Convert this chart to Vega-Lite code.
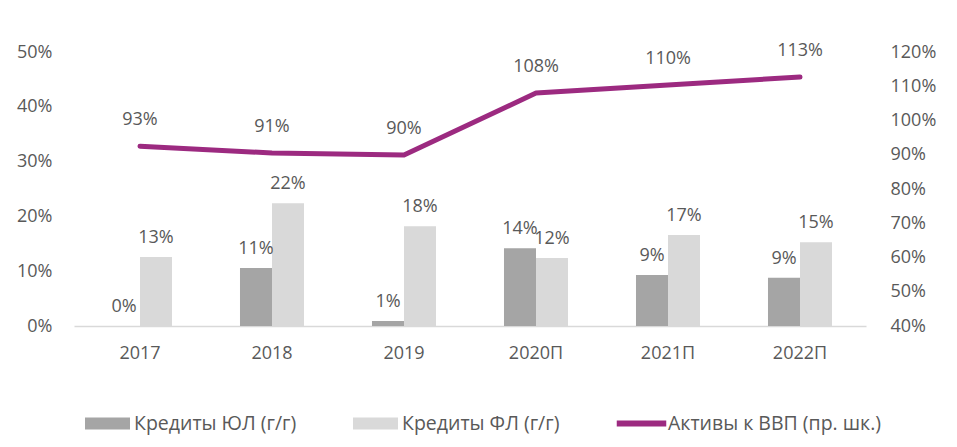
{
  "$schema": "https://vega.github.io/schema/vega-lite/v6.json",
  "width": 792,
  "height": 274,
  "autosize": {"type": "none"},
  "padding": {"left": 74, "top": 52, "right": 91, "bottom": 121},
  "background": "white",
  "config": {
    "view": {"stroke": null},
    "font": "Open Sans",
    "axis": {"labelFont": "Open Sans", "labelFontSize": 18, "labelColor": "#595959", "grid": false, "ticks": false, "title": null},
    "legend": {"labelFont": "Open Sans", "labelFontSize": 19.5, "labelColor": "#595959", "labelLimit": 0}
  },
  "datasets": {
    "bars": [
      {"year": "2017", "series": "Кредиты ЮЛ (г/г)", "value": 0.0},
      {"year": "2017", "series": "Кредиты ФЛ (г/г)", "value": 0.126},
      {"year": "2018", "series": "Кредиты ЮЛ (г/г)", "value": 0.106},
      {"year": "2018", "series": "Кредиты ФЛ (г/г)", "value": 0.224},
      {"year": "2019", "series": "Кредиты ЮЛ (г/г)", "value": 0.009},
      {"year": "2019", "series": "Кредиты ФЛ (г/г)", "value": 0.182},
      {"year": "2020П", "series": "Кредиты ЮЛ (г/г)", "value": 0.142},
      {"year": "2020П", "series": "Кредиты ФЛ (г/г)", "value": 0.124},
      {"year": "2021П", "series": "Кредиты ЮЛ (г/г)", "value": 0.093},
      {"year": "2021П", "series": "Кредиты ФЛ (г/г)", "value": 0.166},
      {"year": "2022П", "series": "Кредиты ЮЛ (г/г)", "value": 0.088},
      {"year": "2022П", "series": "Кредиты ФЛ (г/г)", "value": 0.153}
    ],
    "line": [
      {"year": "2017", "assets": 0.925},
      {"year": "2018", "assets": 0.905},
      {"year": "2019", "assets": 0.899},
      {"year": "2020П", "assets": 1.08},
      {"year": "2021П", "assets": 1.104},
      {"year": "2022П", "assets": 1.127}
    ]
  },
  "encoding": {
    "x": {
      "field": "year", "type": "nominal", "sort": null,
      "scale": {"paddingInner": 0.515, "paddingOuter": 0.2575},
      "axis": {"labelAngle": 0, "labelPadding": 18, "domain": true, "domainColor": "#d9d9d9", "domainWidth": 1.5}
    }
  },
  "layer": [
    {
      "data": {"name": "bars"},
      "encoding": {
        "y": {
          "field": "value", "type": "quantitative",
          "scale": {"domain": [0, 0.5]},
          "axis": {"orient": "left", "format": ".0%", "values": [0, 0.1, 0.2, 0.3, 0.4, 0.5], "domain": false, "labelPadding": 22}
        },
        "xOffset": {"field": "series", "type": "nominal", "sort": ["Кредиты ЮЛ (г/г)", "Кредиты ФЛ (г/г)"], "scale": {"paddingInner": 0, "paddingOuter": 0}}
      },
      "layer": [
        {
          "mark": {"type": "bar"},
          "encoding": {
            "color": {
              "field": "series", "type": "nominal",
              "scale": {
                "domain": ["Кредиты ЮЛ (г/г)", "Кредиты ФЛ (г/г)", "Активы к ВВП (пр. шк.)"],
                "range": ["#a5a5a5", "#d9d9d9", "#9c2a80"]
              },
              "legend": {
                "orient": "none", "legendX": 11, "legendY": 349, "direction": "horizontal",
                "title": null, "symbolSize": 2025, "labelOffset": 4, "columnPadding": 56,
                "symbolStrokeWidth": 0,
                "encode": {
                  "symbols": {
                    "update": {
                      "shape": {"signal": "datum.value === 'Активы к ВВП (пр. шк.)' ? 'M-1.1,-0.13H1.1V0.13H-1.1Z' : 'M-1,-0.27H1V0.27H-1Z'"},
                      "fill": {"signal": "scale('color', datum.value)"},
                      "strokeWidth": {"value": 0}
                    }
                  }
                }
              }
            }
          }
        },
        {
          "mark": {"type": "text", "baseline": "alphabetic", "dy": -14, "fontSize": 18, "color": "#595959", "font": "Open Sans"},
          "encoding": {
            "text": {"field": "value", "type": "quantitative", "format": ".0%"}
          }
        }
      ]
    },
    {
      "data": {"name": "line"},
      "encoding": {
        "y": {
          "field": "assets", "type": "quantitative",
          "scale": {"domain": [0.4, 1.2]},
          "axis": {"orient": "right", "format": ".0%", "values": [0.4, 0.5, 0.6, 0.7, 0.8, 0.9, 1.0, 1.1, 1.2], "domain": false, "labelPadding": 24}
        }
      },
      "layer": [
        {
          "mark": {"type": "line", "strokeWidth": 5, "strokeCap": "round", "strokeJoin": "round"},
          "encoding": {
            "color": {"datum": "Активы к ВВП (пр. шк.)", "type": "nominal"}
          }
        },
        {
          "mark": {"type": "text", "baseline": "alphabetic", "dy": -21, "fontSize": 18, "color": "#595959", "font": "Open Sans"},
          "encoding": {
            "text": {"field": "assets", "type": "quantitative", "format": ".0%"}
          }
        }
      ]
    }
  ],
  "resolve": {"scale": {"y": "independent"}}
}
